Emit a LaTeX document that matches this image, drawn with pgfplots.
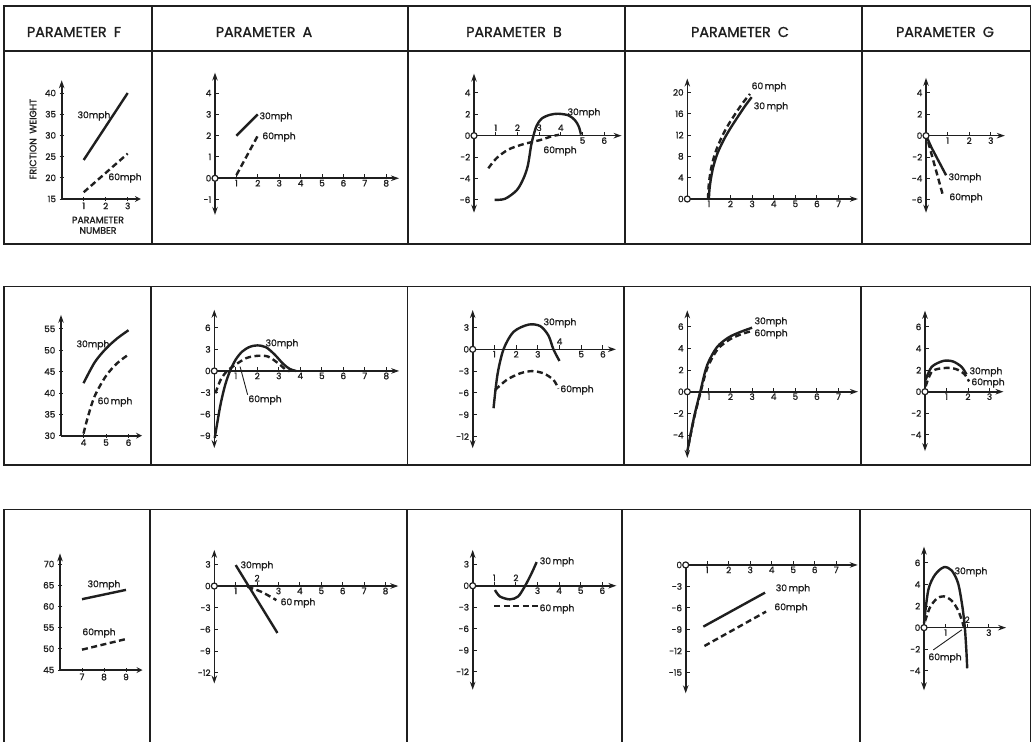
\documentclass[border=0pt]{standalone}
\usepackage{fontspec}
\setmainfont{Poppins}[UprightFeatures={FakeBold=1.3}]
\usepackage{pgfplots}
\pgfplotsset{compat=1.18}
\usetikzlibrary{arrows.meta}

\definecolor{ink}{gray}{0.12}

\pgfplotsset{
  panel/.style={
    axis lines=middle,
    anchor=south west,
    clip=false,
    enlargelimits=false,
    axis line style={ink, line width=1.6pt},
    x axis line style={-{Stealth[length=8pt,width=5.5pt]}},
    y axis line style={{Stealth[length=8pt,width=5.5pt]}-{Stealth[length=8pt,width=5.5pt]}},
    tick align=inside,
    major tick length=4pt,
    tick style={ink, line width=1pt},
    tick label style={ink, font=\fontsize{8.8}{9}\selectfont, inner sep=1.5pt},
    yticklabel style={xshift=-2pt},
    /pgf/number format/assume math mode=true,
    hide obscured x ticks=false,
    hide obscured y ticks=false,
  },
  yup/.style={y axis line style={-{Stealth[length=8pt,width=5.5pt]}}},
  ydown/.style={y axis line style={{Stealth[length=8pt,width=5.5pt]}-}},
  fpanel/.style={panel, axis lines=left, y axis line style={-{Stealth[length=8pt,width=5.5pt]}},
    yticklabel style={xshift=0pt}},
  above ticks/.style={extra x ticks={#1},
    extra x tick style={tick label style={anchor=south, yshift=3pt}}},
  s30/.style={ink, line width=2.4pt},
  s60/.style={ink, line width=2.4pt, dash pattern=on 6pt off 3.5pt},
  org/.style={only marks, mark=*, mark size=3pt,
    mark options={fill=white, draw=ink, line width=1.2pt}},
}

\begin{document}
\begin{tikzpicture}
% page frame and table rules, in pixel-like units
\begin{scope}[x=1pt,y=-1pt]
\useasboundingbox (0,0) rectangle (1032,741);
\fill[white] (0,0) rectangle (1032,741);
\begin{scope}[ink, line width=1.8pt]
  % first row with header band
  \draw (4,6) rectangle (1030.5,244);
  \draw (4,51) -- (1030.5,51);
  \foreach \xx in {152,408,625,862} \draw (\xx,6) -- (\xx,244);
  % second row
  \draw (4,286.5) rectangle (1030.5,465);
  \foreach \xx in {151,407.5,624,861} \draw (\xx,286.5) -- (\xx,465);
  % third row (runs off the page)
  \draw (4,745) -- (4,509.5) -- (1030.5,509.5) -- (1030.5,745);
  \foreach \xx in {150,407,622,860} \draw (\xx,509.5) -- (\xx,745);
\end{scope}
\tikzset{hdr/.style={ink, font=\fontsize{14.3}{15}\selectfont},
         lbl/.style={ink, font=\fontsize{9.2}{10}\selectfont, inner sep=0pt},
         axtitle/.style={ink, font=\fontsize{9.3}{10}\selectfont, inner sep=0pt}}
\node[hdr] at (74,32) {PARAMETER\enspace F};
\node[hdr] at (264,32) {PARAMETER\enspace A};
\node[hdr] at (514,32) {PARAMETER\enspace B};
\node[hdr] at (740,32) {PARAMETER\enspace C};
\node[hdr] at (945,32) {PARAMETER\enspace G};
\node[axtitle, rotate=90] at (33,139) {FRICTION\enspace WEIGHT};
\node[axtitle] at (98,220) {PARAMETER};
\node[axtitle] at (98,230.5) {NUMBER};
% curve labels
\node[lbl] at (94,116) {30mph};
\node[lbl] at (125,178) {60mph};
\node[lbl] at (276,117) {30mph};
\node[lbl] at (279,137) {60mph};
\node[lbl] at (584,113) {30mph};
\node[lbl] at (560,151) {60mph};
\node[lbl] at (769,87) {60\,mph};
\node[lbl] at (771,107) {30\,mph};
\node[lbl] at (965,178) {30mph};
\node[lbl] at (966,198) {60mph};
\node[lbl] at (93,345) {30mph};
\node[lbl] at (115,402) {60\,mph};
\node[lbl] at (282,344) {30mph};
\node[lbl] at (265,400) {60mph};
\node[lbl] at (560,323) {30mph};
\node[lbl] at (577,390) {60mph};
\node[lbl] at (771,322) {30mph};
\node[lbl] at (771,334) {60mph};
\node[lbl] at (986,372) {30mph};
\node[lbl] at (988,383) {60mph};
\node[lbl] at (104,585) {30mph};
\node[lbl] at (99,633) {60mph};
\node[lbl] at (257,566) {30mph};
\node[lbl] at (298,603) {60\,mph};
\node[lbl] at (557,562) {30\,mph};
\node[lbl] at (557,609) {60\,mph};
\node[lbl] at (793,589) {30\,mph};
\node[lbl] at (791,608) {60mph};
\node[lbl] at (971,572) {30mph};
\node[lbl] at (945,658) {60mph};
\end{scope}

%% ---------- row 1 ----------
\begin{axis}[fpanel, at={(61.7pt,-199pt)}, x=22pt, y=4.24pt,
  xmin=0, xmax=3.6, ymin=15, ymax=43, xtick={1,2,3}, ytick={15,20,...,40}]
\addplot[s30] coordinates {(1,24.2) (3,40)};
\addplot[s60] coordinates {(1,16.6) (3,25.7)};
\end{axis}

\begin{axis}[panel, at={(215pt,-214.9pt)}, x=21.4pt, y=21.3pt,
  xmin=0, xmax=8.6, ymin=-1.72, ymax=4.96, xtick={1,...,8}, ytick={-1,...,4}]
\addplot[s30] coordinates {(1,2) (2,3)};
\addplot[s60] coordinates {(1,0.15) (2,2)};
\addplot[org] coordinates {(0,0)};
\end{axis}

\begin{axis}[panel, at={(474pt,-212.7pt)}, x=21.7pt, y=10.7pt,
  xmin=0, xmax=6.8, ymin=-7.2, ymax=5.8, xtick={5,6}, above ticks={1,2,3,4},
  ytick={-6,-4,...,4}]
\addplot[s30, smooth] coordinates {(0.95,-6.0) (1.43,-5.9) (1.97,-5.1) (2.28,-4.0)
  (2.48,-2.8) (2.63,-0.95) (2.74,0) (2.89,0.95) (3.12,1.6) (3.5,1.95) (3.88,2.05)
  (4.35,1.9) (4.65,1.45) (4.83,0.85) (4.93,0.1)};
\addplot[s60, smooth] coordinates {(0.66,-3.05) (1.04,-2.1) (1.58,-1.3) (2.2,-0.84)
  (2.66,-0.6) (3.12,-0.37) (3.58,-0.06) (3.92,0.08)};
\addplot[org] coordinates {(0,0)};
\end{axis}

\begin{axis}[panel, yup, at={(687.3pt,-199pt)}, x=21.6pt, y=5.33pt,
  xmin=0, xmax=7.9, ymin=0, ymax=22.6, xtick={1,...,7}, ytick={0,4,...,20}]
\addplot[s30, smooth] coordinates {(1,0) (1.02,1.5) (1.08,3.5) (1.2,6) (1.4,8.6)
  (1.7,11.2) (2,13.3) (2.4,15.8) (2.7,17.6) (2.98,19.1)};
\addplot[s60, smooth] coordinates {(0.96,0) (0.98,2) (1.04,4.2) (1.16,6.8) (1.36,9.4)
  (1.64,12) (1.94,14.2) (2.34,16.7) (2.64,18.4) (2.9,19.7)};
\addplot[org] coordinates {(0,0)};
\end{axis}

\begin{axis}[panel, at={(926pt,-212.7pt)}, x=21.6pt, y=10.7pt,
  xmin=0, xmax=3.65, ymin=-7.2, ymax=5.4, xtick={1,2,3}, ytick={-6,-4,...,4}]
\addplot[s30] coordinates {(0.05,-0.2) (0.25,-1.1) (0.93,-3.7)};
\addplot[s60] coordinates {(0.1,-0.6) (0.8,-5.7)};
\addplot[org] coordinates {(0,0)};
\end{axis}

%% ---------- row 2 ----------
\begin{axis}[fpanel, at={(61pt,-435.7pt)}, x=22.5pt, y=4.27pt,
  xmin=3, xmax=6.6, ymin=30, ymax=58.3, xtick={4,5,6}, ytick={30,35,...,55}]
\addplot[s30, smooth] coordinates {(4,42.3) (4.5,47.2) (5,50.4) (5.5,52.8) (6,54.7)};
\addplot[s60, smooth] coordinates {(4,30.5) (4.2,34.5) (4.5,39.3) (5,44) (5.5,47) (6,49)};
\end{axis}

\begin{axis}[panel, at={(214.3pt,-448pt)}, x=21.5pt, y=7.2pt,
  xmin=0, xmax=8.6, ymin=-10.7, ymax=8.5, xtick={1,...,8}, ytick={-9,-6,...,6}]
\addplot[s30, smooth] coordinates {(0.02,-9.3) (0.15,-7) (0.3,-4.5) (0.5,-2.0) (0.73,0)
  (1.0,1.6) (1.3,2.7) (1.65,3.35) (2.0,3.55) (2.4,3.3) (2.8,2.3) (3.2,1.0) (3.5,0.3) (3.8,0)};
\addplot[s60, smooth] coordinates {(0.05,-3.1) (0.3,-1.2) (0.6,0) (1.0,0.9) (1.5,1.8)
  (2.0,2.1) (2.5,2.0) (3.0,1.0) (3.35,0.1) (3.5,0)};
\draw[ink, line width=0.9pt] (axis cs:1.55,-3.3) -- (axis cs:1.2,0.6);
\addplot[org] coordinates {(0,0)};
\end{axis}

\begin{axis}[panel, at={(472.7pt,-448.2pt)}, x=21.7pt, y=7.27pt,
  xmin=0, xmax=6.6, ymin=-13.6, ymax=5.4, xtick={1,2,3,5,6}, above ticks={4},
  ytick={-12,-9,...,3}]
\addplot[s30, smooth] coordinates {(0.96,-8.1) (1.14,-3.5) (1.42,0) (1.88,2.4) (2.57,3.4)
  (3.11,3.2) (3.49,1.9) (3.72,0) (4.0,-1.6)};
\addplot[s60, smooth] coordinates {(1.03,-5.6) (1.57,-4.2) (2.19,-3.3) (2.73,-3.0)
  (3.26,-3.3) (3.72,-4.2) (3.95,-5.4)};
\addplot[org] coordinates {(0,0)};
\end{axis}

\begin{axis}[panel, at={(687.3pt,-457.9pt)}, x=21.6pt, y=10.85pt,
  xmin=0, xmax=7.9, ymin=-6.1, ymax=7.5, xtick={1,...,7}, ytick={-4,-2,...,6}]
\addplot[s30, smooth] coordinates {(0,-5.5) (0.3,-2.45) (0.6,0) (0.91,2.4) (1.37,4.1)
  (1.91,5.0) (2.45,5.5) (3.0,5.9)};
\addplot[s60, smooth] coordinates {(0.05,-5.0) (0.33,-2.3) (0.62,0) (0.93,2.2) (1.4,3.9)
  (1.95,4.8) (2.5,5.3) (3.0,5.6)};
\addplot[org] coordinates {(0,0)};
\end{axis}

\begin{axis}[panel, at={(925pt,-451.1pt)}, x=21.5pt, y=10.8pt,
  xmin=0, xmax=3.65, ymin=-5.5, ymax=7.5, xtick={1,2,3}, ytick={-4,-2,...,6}]
\addplot[s30, smooth] coordinates {(0.03,1.1) (0.31,2.3) (0.85,2.85) (1.3,2.8) (1.7,2.3) (1.93,1.6)};
\addplot[s60, smooth] coordinates {(0.03,0.5) (0.34,1.9) (0.96,2.2) (1.43,2.1) (1.82,1.65) (2.05,0.95)};
\addplot[org] coordinates {(0,0)};
\end{axis}

%% ---------- row 3 ----------
\begin{axis}[fpanel, at={(60pt,-670pt)}, x=22pt, y=4.24pt,
  xmin=6, xmax=9.75, ymin=45, ymax=72.5, xtick={7,8,9}, ytick={45,50,...,70}]
\addplot[s30] coordinates {(7,61.7) (9,63.9)};
\addplot[s60] coordinates {(7,49.8) (9,52.3)};
\end{axis}

\begin{axis}[panel, at={(214.3pt,-683.5pt)}, x=21.4pt, y=7.22pt,
  xmin=0, xmax=8.6, ymin=-13.5, ymax=5, xtick={1,3,4,5,6,7,8}, above ticks={2},
  ytick={-12,-9,...,3}]
\addplot[s30] coordinates {(1,2.9) (2.95,-6.5)};
\addplot[s60, smooth] coordinates {(1.55,-0.1) (2.2,-0.8) (2.9,-1.95)};
\addplot[org] coordinates {(0,0)};
\end{axis}

\begin{axis}[panel, at={(472.7pt,-689.7pt)}, x=21.6pt, y=7.17pt,
  xmin=0, xmax=6.65, ymin=-14.5, ymax=5, xtick={3,4,5,6}, above ticks={1,2},
  ytick={-12,-9,...,3}]
\addplot[s30, smooth] coordinates {(1.03,-0.6) (1.26,-1.5) (1.72,-1.9) (2.1,-1.5)
  (2.41,-0.1) (2.72,1.7) (2.96,3.3)};
\addplot[s60] coordinates {(1,-2.8) (3.1,-2.8)};
\addplot[org] coordinates {(0,0)};
\end{axis}

\begin{axis}[panel, ydown, at={(685.7pt,-693.3pt)}, x=21.5pt, y=7.17pt,
  xmin=0, xmax=8, ymin=-17.9, ymax=0, xtick={1,...,7}, ytick={-15,-12,...,0}]
\addplot[s30] coordinates {(0.82,-8.6) (3.69,-3.86)};
\addplot[s60] coordinates {(0.87,-11.3) (3.74,-6.5)};
\addplot[org] coordinates {(0,0)};
\end{axis}

\begin{axis}[panel, at={(924pt,-690.3pt)}, x=21.6pt, y=10.8pt,
  xmin=0, xmax=3.8, ymin=-5.8, ymax=7.5, xtick={1,3}, above ticks={2},
  ytick={-4,-2,...,6}]
\addplot[s30, smooth] coordinates {(0.0,0.4) (0.2,3.5) (0.51,4.9) (0.92,5.6) (1.28,5.3)
  (1.58,4.1) (1.78,1.9) (1.89,0) (1.96,-2.1) (2.0,-3.76)};
\addplot[s60, smooth] coordinates {(0.05,0.6) (0.28,1.9) (0.6,2.7) (0.92,2.9) (1.28,2.5)
  (1.58,1.6) (1.78,0.5) (1.85,0)};
\draw[ink, line width=0.9pt] (axis cs:0.43,-2.06) -- (axis cs:1.75,-0.2);
\addplot[org] coordinates {(0,0)};
\end{axis}
\end{tikzpicture}
\end{document}
